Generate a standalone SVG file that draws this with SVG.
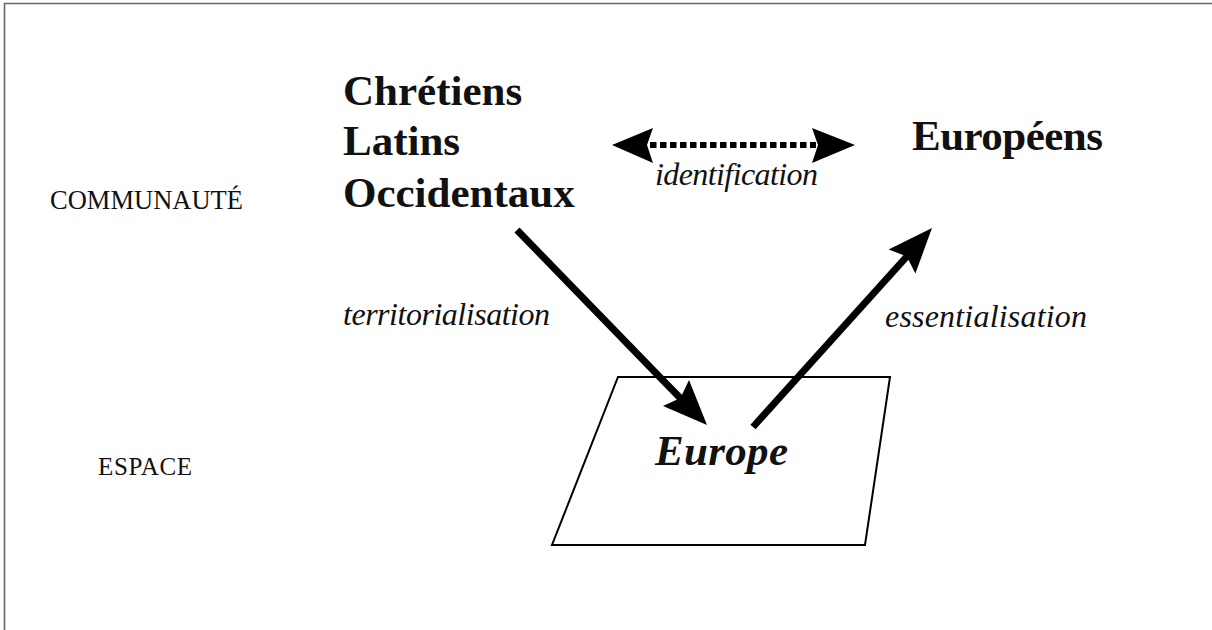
<svg xmlns="http://www.w3.org/2000/svg" width="1212" height="630" viewBox="0 0 1212 630">
<style>
.lbl{font-family:"Liberation Serif","Times New Roman",serif;fill:#111;}
.big{font-size:43px;font-weight:bold;}
.it{font-size:32px;font-style:italic;}
.cat{font-size:25px;}
.shaft{stroke:#000;stroke-width:7;fill:none;}
.head{fill:#000;stroke:none;}
</style>
<rect width="1212" height="630" fill="#fff"/>
<path d="M4.5 630 V3.5 H1212" fill="none" stroke="#666" stroke-width="1.6"/>
<g id="label-communaute"><text class="lbl" x="50" y="209" font-size="26.5" textLength="193">COMMUNAUTÉ</text></g>
<g id="label-espace"><text class="lbl cat" x="98" y="475" textLength="94">ESPACE</text></g>
<g id="node-chretiens">
<text class="lbl big" x="343" y="105">Chrétiens</text>
<text class="lbl big" x="343" y="155">Latins</text>
<text class="lbl big" x="343" y="207">Occidentaux</text>
</g>
<g id="node-europeens"><text class="lbl big" x="912" y="150" textLength="191">Européens</text></g>
<g id="node-europe">
<polygon points="618,377 890,377 865,545 552,545" fill="none" stroke="#000" stroke-width="2"/>
<text class="lbl" x="655" y="465" font-size="43" font-weight="bold" font-style="italic" textLength="133">Europe</text>
</g>
<g id="connectors">
<line x1="650" y1="145" x2="816" y2="145" stroke="#000" stroke-width="6" stroke-dasharray="6.5 3.5"/>
<path class="head" d="M612 145 L653 128 L647 145 L653 163 Z"/>
<path class="head" d="M855 145 L812 128 L818 145 L812 163 Z"/>
<text class="lbl it" x="655" y="185" textLength="163">identification</text>
<line class="shaft" x1="517" y1="230" x2="684" y2="402"/>
<path class="head" d="M707 425 L663 406 L680.5 398 L689 380 Z"/>
<text class="lbl it" x="343" y="325" font-size="31" textLength="207">territorialisation</text>
<line class="shaft" x1="753" y1="427" x2="910" y2="253"/>
<path class="head" d="M932 228 L915.4 273.5 L906.6 256.3 L888.6 249.5 Z"/>
<text class="lbl it" x="885" y="327" textLength="202">essentialisation</text>
</g>
</svg>
